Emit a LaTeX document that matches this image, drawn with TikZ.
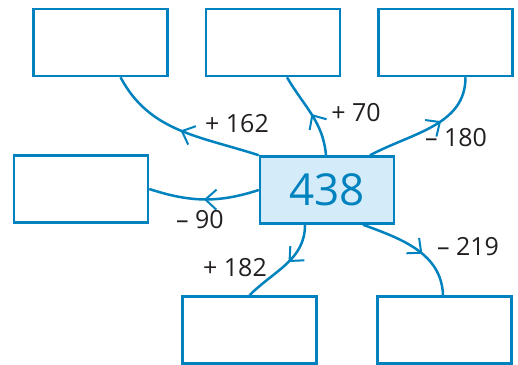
\documentclass[tikz,border=0pt]{standalone}
\usepackage{fontspec}
\setmainfont{Open Sans}
\usepackage{tikz}
\usetikzlibrary{arrows.meta, decorations.markings}

\definecolor{lineblue}{RGB}{0,130,190}
\definecolor{boxfill}{RGB}{212,236,250}
\definecolor{textgray}{RGB}{35,31,32}

\tikzset{
    answer/.style   = {draw = lineblue, line width = 2.5pt, minimum width = 134pt, minimum height = 67pt, inner sep = 0pt},
    start/.style    = {answer, fill = boxfill, text = lineblue, font = \fontsize{44}{48}\selectfont},
    stepnum/.style  = {text = textgray, font = \fontsize{25}{28}\selectfont, inner sep = 0pt},
    link/.style     = {draw = lineblue, line width = 2.5pt, decoration = {markings,
                       mark = at position #1 with {\arrow{Straight Barb[length=11pt, width=20pt, line width=2pt]}}},
                       postaction = {decorate}},
    link/.default   = 0.5
}

\begin{document}
\begin{tikzpicture}[x = 1pt, y = 1pt]
                \useasboundingbox (0, 0) rectangle (518, -364);
                \draw
                    (100.5,  -42.5) node[answer](topleft){}
                    (273,    -42.5) node[answer](topmid){}
                    (445.5,  -42.5) node[answer](topright){}
                    ( 81,   -189)   node[answer](left){}
                    (249.5, -330)   node[answer](botleft){}
                    (444.5, -330)   node[answer](botright){}

                    (327,   -190)   node[start](centre){438}
                ;
                \draw [link]      (centre.north west)            to[out = 162, in = -62] ([xshift = 20pt]topleft.south);
                \draw [link]      ([xshift = -1pt]centre.north)  to[out = 95,  in = -60] ([xshift = 14pt]topmid.south);
                \draw [link=0.6]  ([xshift = 43pt]centre.north)  to[out = 28,  in = -90] ([xshift = 20pt]topright.south);
                \draw [link]      (centre.west)                  to[out = 198, in = -18] (left.east);
                \draw [link=0.45] ([xshift = -22pt]centre.south) to[out = -90, in = 45]  (botleft.north);
                \draw [link=0.58] ([xshift = 36pt]centre.south)  to[out = -20, in = 92]  ([xshift = -1.5pt]botright.north);

                \node[stepnum] (plus162)  at (237, -124) {+ 162};
                \node[stepnum] (plus70)   at (356, -113) {+ 70};
                \node[stepnum] (minus180) at (456, -138) {– 180};
                \node[stepnum] (minus90)  at (200, -220) {– 90};
                \node[stepnum] (plus182)  at (235, -268) {+ 182};
                \node[stepnum] (minus219) at (468, -247) {– 219};
            \end{tikzpicture}
\end{document}
